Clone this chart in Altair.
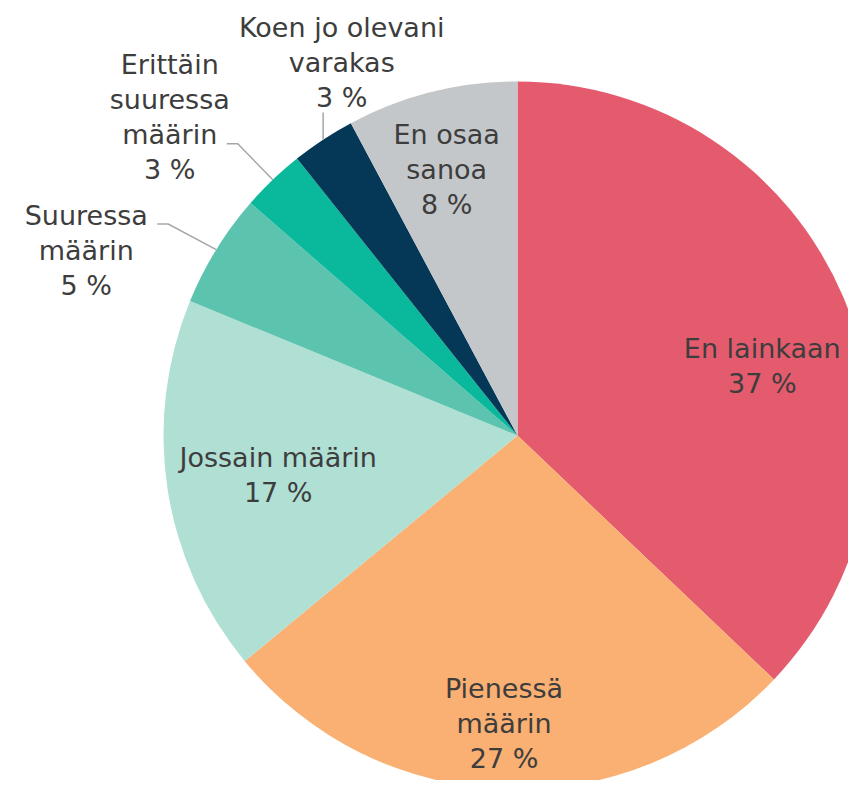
import math
import altair as alt
import pandas as pd

# ---- data ----
categories = ["En lainkaan", "Pienessä määrin", "Jossain määrin", "Suuressa määrin",
              "Erittäin suuressa määrin", "Koen jo olevani varakas", "En osaa sanoa"]
values = [37.1, 26.9, 17.2, 5.2, 2.9, 2.9, 7.8]
pct_labels = ["37 %", "27 %", "17 %", "5 %", "3 %", "3 %", "8 %"]
label_lines = [["En lainkaan"], ["Pienessä", "määrin"], ["Jossain määrin"],
               ["Suuressa", "määrin"], ["Erittäin", "suuressa", "määrin"],
               ["Koen jo olevani", "varakas"], ["En osaa", "sanoa"]]
colors = ["#e45b6e", "#f9b072", "#b0dfd4", "#5cc3ae", "#0ab99c", "#053756", "#c4c7ca"]

# ---- layout / style ----
W, H = 840, 772
CX, CY, R = 509.5, 427.5, 354
FONT = "DejaVu Sans"
FS = 27
LH = 35
TEXT_COLOR = "#3d3d3d"
# radius of label anchor + pixel offset (anchor = vertical centre of label block)
label_layout = [(250, 15, 31), (289, -3.5, 0.6), (240, -2, 5), (354, -130, 2),
                (354, -103, -61), (354, 18.6, -75.7), (273, -4.6, 0)]
# leader line points as offsets from the slice's outer mid point
leader_layout = {3: [(-59, -25.5), (-48, -25.5), (0, 0)],
                 4: [(-46, -36), (-35, -36), (0, 0)],
                 5: [(0, -27), (0, 0)]}

total = sum(values)
mids = []
acc = 0.0
for v in values:
    mids.append((acc + v / 2) / total * 2 * math.pi)
    acc += v

slices = pd.DataFrame({"category": categories, "value": values,
                       "idx": list(range(len(categories)))})

lab_rows = []
for i, cat in enumerate(categories):
    r, ox, oy = label_layout[i]
    a = mids[i]
    lines_i = label_lines[i] + [pct_labels[i]]
    n = len(lines_i)
    lab_rows.append({
        "category": cat,
        "text": "\n".join(lines_i),
        "x": CX + r * math.sin(a) + ox,
        "y": CY - r * math.cos(a) + oy - (n - 1) / 2 * LH,
    })
labels = pd.DataFrame(lab_rows)

line_rows = []
for i, pts in leader_layout.items():
    a = mids[i]
    ex, ey = CX + R * math.sin(a), CY - R * math.cos(a)
    for k, (ox, oy) in enumerate(pts):
        line_rows.append({"category": categories[i], "k": k, "x": ex + ox, "y": ey + oy})
leaders = pd.DataFrame(line_rows)

arcs = alt.Chart(slices).mark_arc(radius=R, stroke=None).encode(
    theta=alt.Theta("value:Q", stack=True),
    color=alt.Color("category:N", scale=alt.Scale(domain=categories, range=colors), legend=None),
    order=alt.Order("idx:Q"),
    x=alt.value(CX),
    y=alt.value(CY),
)

lines = alt.Chart(leaders).mark_line(color="#a6a6a6", strokeWidth=1.5).encode(
    x=alt.X("x:Q", scale=None, axis=None),
    y=alt.Y("y:Q", scale=None, axis=None),
    detail="category:N",
    order="k:Q",
)

texts = alt.Chart(labels).mark_text(
    font=FONT, fontSize=FS, lineHeight=LH, lineBreak="\n",
    align="center", baseline="middle", color=TEXT_COLOR,
).encode(
    x=alt.X("x:Q", scale=None, axis=None),
    y=alt.Y("y:Q", scale=None, axis=None),
    text="text:N",
)

chart = alt.layer(arcs, lines, texts).properties(
    width=W, height=H, padding=0, autosize="none",
).configure_view(stroke=None)

chart.save("out.html", embed_options={"renderer": "svg", "actions": False})
